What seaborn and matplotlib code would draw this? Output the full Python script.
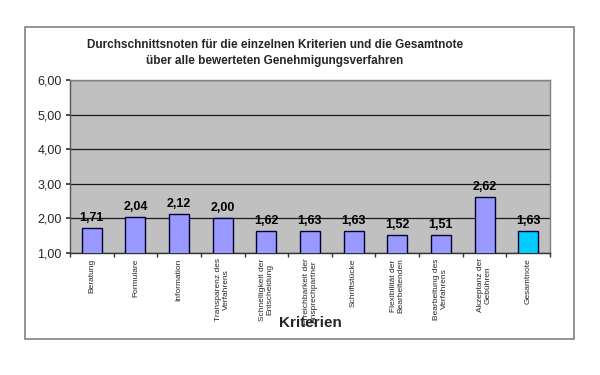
import matplotlib
matplotlib.use("Agg")
import matplotlib.pyplot as plt
import seaborn as sns
import pandas as pd
from matplotlib.patches import Rectangle
from matplotlib.ticker import FixedLocator, FuncFormatter

categories = ["Beratung", "Formulare", "Information", "Transparenz des\nVerfahrens",
              "Schnelligkeit der\nEntscheidung", "Erreichbarkeit der\nAnsprechpartner",
              "Schriftstücke", "Flexibilität der\nBearbeitenden", "Bearbeitung des\nVerfahrens",
              "Akzeptanz der\nGebühren", "Gesamtnote"]
values = [1.71, 2.04, 2.12, 2.00, 1.62, 1.63, 1.63, 1.52, 1.51, 2.62, 1.63]
bar_colors = ["#9999FF"] * 10 + ["#00CCFF"]

sns.set_theme(style="white")
plt.rcParams["font.family"] = ["Liberation Sans", "DejaVu Sans"]

df = pd.DataFrame({"Kriterium": categories, "Note": values})

fig = plt.figure(figsize=(6, 3.75), dpi=100)
ax = fig.add_axes([70/600, 1-252.7/375, 480/600, 172.7/375])
ax.set_facecolor("#C0C0C0")

sns.barplot(data=df, x="Kriterium", y="Note", hue="Kriterium", palette=bar_colors,
            legend=False, width=0.46, edgecolor="#000033", linewidth=1.0,
            saturation=1, ax=ax, zorder=3)

ax.set_ylim(1, 6)
ax.set_xlim(-0.5, len(categories) - 0.5)
ax.yaxis.set_major_locator(FixedLocator([1, 2, 3, 4, 5, 6]))
ax.yaxis.set_major_formatter(FuncFormatter(lambda v, p: f"{v:.2f}".replace(".", ",")))
ax.grid(axis="y", color="#1a1a1a", linewidth=0.9, zorder=1)
ax.set_axisbelow(True)

for i, v in enumerate(values):
    ax.text(i, v + 0.12, f"{v:.2f}".replace(".", ","), ha="center", va="bottom",
            fontsize=9, fontweight="bold", color="black")

ax.set_xticks(range(len(categories)))
ax.set_xticklabels(categories, rotation=90, fontsize=6, ha="center", va="top",
                   multialignment="center")
ax.tick_params(axis="x", which="major", length=0, pad=4)
ax.set_xticks([i + 0.5 for i in range(-1, len(categories))], minor=True)
ax.tick_params(axis="x", which="minor", length=3, color="#333333", direction="out", bottom=True)
ax.tick_params(axis="y", length=3, color="#333333", direction="out", left=True,
               labelsize=9, pad=3)

for s in ["top", "right"]:
    ax.spines[s].set_color("#808080")
    ax.spines[s].set_linewidth(1.0)
ax.spines["left"].set_color("#555555")
ax.spines["bottom"].set_color("#333333")
ax.spines["left"].set_linewidth(1.0)
ax.spines["bottom"].set_linewidth(1.0)

ax.set_xlabel("")
ax.set_ylabel("")

fig.text(310/600, 1-323/375, "Kriterien", ha="center", va="center",
         fontsize=11, fontweight="bold")
fig.text(275/600, 1-53/375,
         "Durchschnittsnoten für die einzelnen Kriterien und die Gesamtnote\nüber alle bewerteten Genehmigungsverfahren",
         ha="center", va="center", fontsize=8.5, fontweight="bold", linespacing=1.4)

fig.patches.append(Rectangle((25/600, 1-339/375), 549/600, 312/375,
                             transform=fig.transFigure, fill=False,
                             edgecolor="#808080", linewidth=1.2, zorder=0))

fig.savefig("out.png", dpi=100, facecolor="white")
